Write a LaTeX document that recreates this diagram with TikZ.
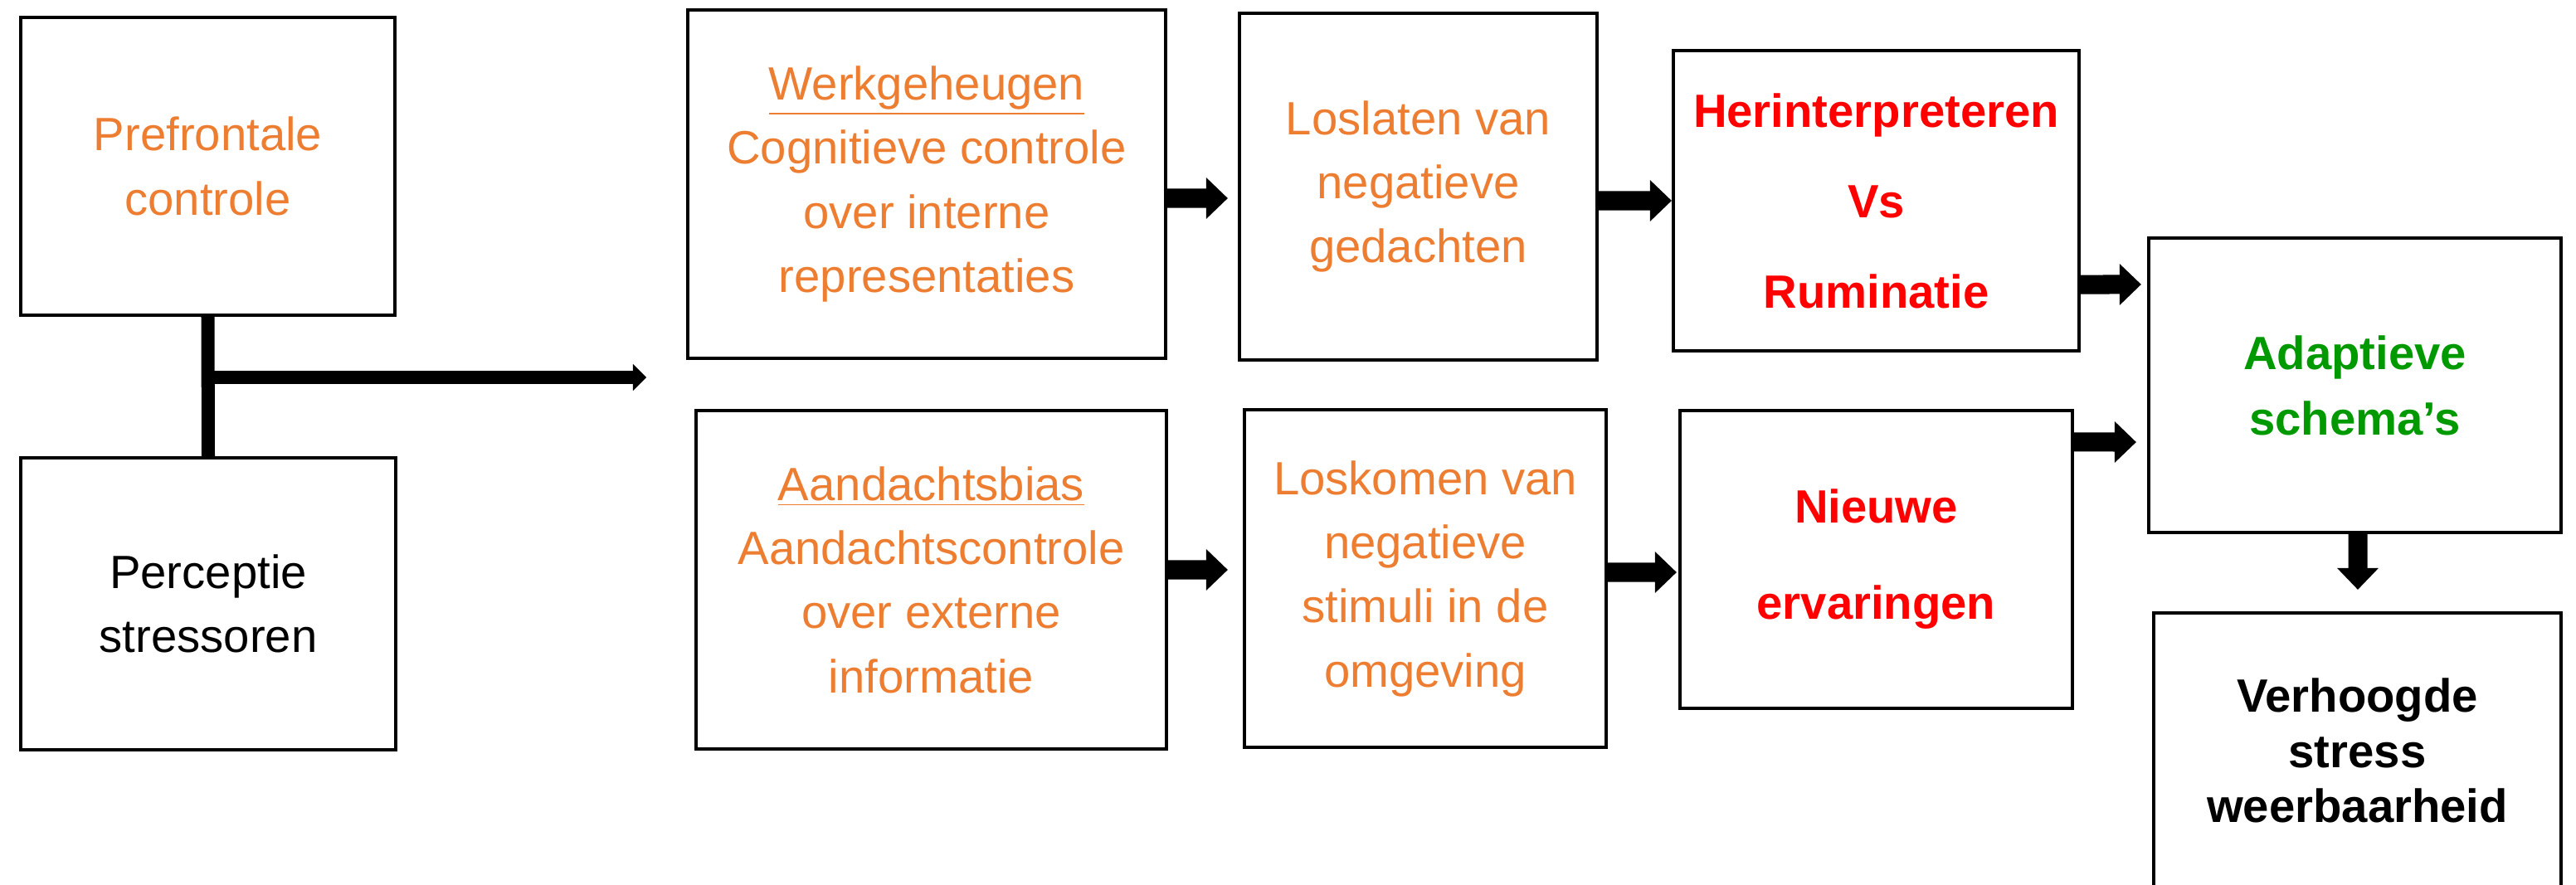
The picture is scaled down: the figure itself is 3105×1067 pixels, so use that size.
\documentclass[tikz,border=0pt]{standalone}
\usepackage{fontspec}
\setmainfont{Liberation Sans}
\usetikzlibrary{arrows.meta}

\definecolor{oranje}{RGB}{237,125,49}
\definecolor{rood}{RGB}{255,0,0}
\definecolor{groen}{RGB}{0,153,0}

\tikzset{
  blok/.style={draw, line width=1.15pt, align=center, inner sep=0pt, font=\fontsize{16}{22}\selectfont},
  vet/.style={font=\bfseries\fontsize{16}{#1}\selectfont},
  blokpijl/.style={line width=0.23cm, -{Triangle[width=0.5cm,length=0.26cm,line width=0pt]}},
  dunpijl/.style={line width=0.15cm, -{Triangle[width=0.32cm,length=0.16cm,line width=0pt]}},
}

\begin{document}
\begin{tikzpicture}[x=0.01cm,y=-0.01cm]
    \clip (0,0) rectangle (3105,1067);

    % linker kolom
    \node[blok, text=oranje, minimum width=4.51cm, minimum height=3.59cm] (pfc) at (250.5,200.5) {Prefrontale\\controle};
    \node[blok, minimum width=4.52cm, minimum height=3.52cm] (perc) at (251,728) {Perceptie\\stressoren};
    \coordinate (pijlpunt) at (779,455);
    \draw[line width=0.16cm] (pfc.south) -- (perc.north);
    \draw[dunpijl] (pijlpunt -| pfc.south) -- (pijlpunt);

    % processen
    \node[blok, text=oranje, minimum width=5.76cm, minimum height=4.2cm] (werk) at (1117,222) {\underline{Werkgeheugen}\\Cognitieve controle\\over interne\\representaties};
    \node[blok, text=oranje, minimum width=5.67cm, minimum height=4.08cm] (aand) at (1122.5,699) {\underline{Aandachtsbias}\\Aandachtscontrole\\over externe\\informatie};
    \node[blok, text=oranje, minimum width=4.31cm, minimum height=4.18cm] (losl) at (1709.5,225) {Loslaten van\\negatieve\\gedachten};
    \node[blok, text=oranje, minimum width=4.36cm, minimum height=4.07cm] (losk) at (1718,697.5) {Loskomen van\\negatieve\\stimuli in de\\omgeving};

    % uitkomsten
    \node[blok, vet=31, text=rood, minimum width=4.89cm, minimum height=3.62cm] (herint) at (2261.5,242) {Herinterpreteren\\Vs\\Ruminatie};
    \node[blok, vet=33, text=rood, minimum width=4.73cm, minimum height=3.59cm] (nieuw) at (2261.5,674.5) {Nieuwe\\ervaringen};
    \node[blok, vet=22.5, text=groen, minimum width=4.97cm, minimum height=3.55cm] (adapt) at (2838.5,464.5) {Adaptieve\\schema’s};
    \node[blok, vet=19, minimum width=4.91cm, minimum height=3.32cm] (verh) at (2841.5,905) {Verhoogde\\stress\\weerbaarheid};

    % pijlen
    \draw[blokpijl] ([yshift=-.17cm]werk.east) -- ([xshift=-.12cm,yshift=-.14cm]losl.west);
    \draw[blokpijl] ([yshift=.12cm]aand.east) -- ([xshift=-.18cm,yshift=.105cm]losk.west);
    \draw[blokpijl] ([yshift=-.17cm]losl.east) -- (herint.west);
    \draw[blokpijl] ([yshift=.075cm]losk.east) -- ([xshift=-.02cm,yshift=-.155cm]nieuw.west);
    \draw[blokpijl] ([yshift=-1.01cm]herint.east) -- ([xshift=-.07cm,yshift=1.215cm]adapt.west);
    \draw[blokpijl] ([yshift=1.415cm]nieuw.east) -- ([xshift=-.13cm,yshift=-.685cm]adapt.west);
    \draw[blokpijl] ([xshift=.035cm]adapt.south) -- ([xshift=.005cm,yshift=.26cm]verh.north);
\end{tikzpicture}
\end{document}
